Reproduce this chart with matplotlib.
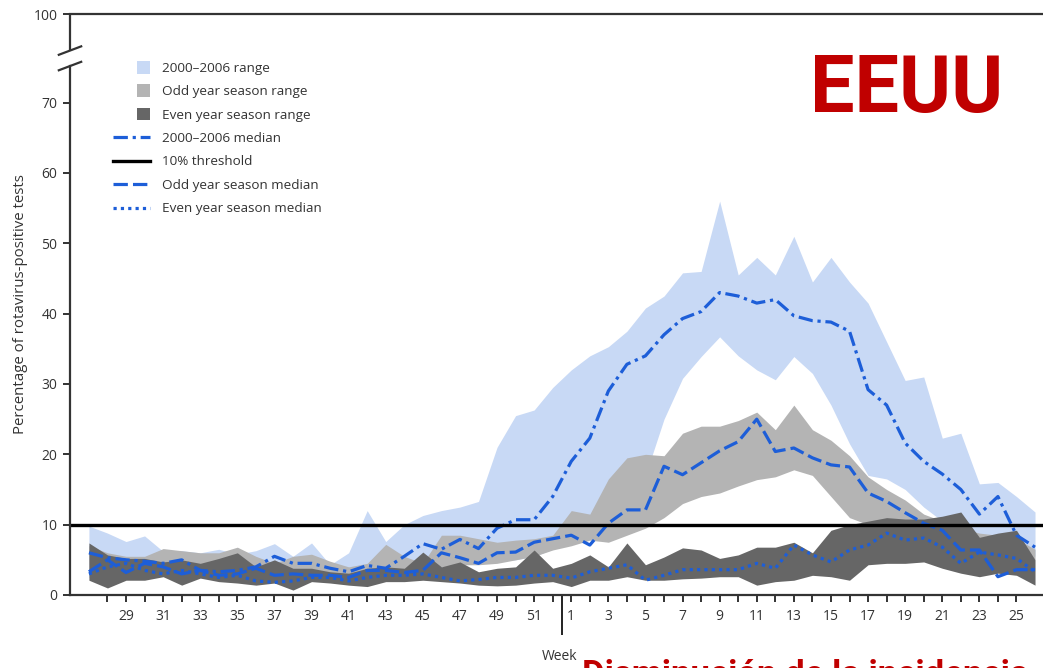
import numpy as np
import matplotlib.pyplot as plt
from matplotlib.patches import Rectangle, Patch
from matplotlib.lines import Line2D
from matplotlib.legend_handler import HandlerPatch

plt.rcParams['font.family'] = ['Open Sans', 'DejaVu Sans']

# surveillance weeks, July to June
weeks = list(range(27, 53)) + list(range(1, 27))

# 2000-2006 range (min / max) and median
base_hi = [9.8, 8.8, 7.6, 8.4, 6.2, 6.3, 6.0, 6.5, 5.8, 6.3, 7.3, 5.5, 7.4, 4.3, 6.0, 12.0, 7.6, 10.0, 11.3, 12.0,
           12.5, 13.3, 21.0, 25.5, 26.3, 29.5, 32.0, 34.0, 35.3, 37.5, 40.8, 42.5, 45.8, 46.0, 56.0, 45.5, 48.0, 45.5,
           51.0, 44.5, 48.0, 44.5, 41.5, 36.0, 30.5, 31.0, 22.3, 23.0, 15.8, 16.0, 14.0, 11.8]
base_lo = [2.5, 2.0, 2.5, 2.5, 2.8, 2.0, 2.6, 2.2, 2.0, 2.0, 2.0, 1.5, 2.2, 2.0, 2.0, 2.0, 2.2, 2.2, 2.5, 2.5,
           4.5, 4.5, 4.8, 5.0, 5.5, 6.5, 8.0, 8.0, 9.0, 11.0, 17.0, 25.0, 30.8, 33.9, 36.7, 34.0, 32.0, 30.6,
           33.9, 31.5, 27.0, 21.5, 17.0, 16.5, 15.0, 12.5, 10.5, 9.5, 8.0, 7.5, 7.0, 5.5]
base_med = [6.0, 5.3, 5.0, 4.8, 4.5, 5.0, 3.5, 3.3, 3.5, 4.0, 5.5, 4.5, 4.5, 3.8, 3.3, 4.2, 3.8, 5.5, 7.3, 6.5,
            7.9, 6.6, 9.5, 10.7, 10.7, 14.0, 19.0, 22.3, 29.0, 32.8, 34.0, 37.0, 39.3, 40.3, 43.0, 42.5, 41.5, 42.0,
            39.7, 39.0, 38.8, 37.5, 29.2, 27.0, 21.6, 19.0, 17.2, 15.0, 11.5, 14.0, 8.5, 6.8]

# odd year seasons
odd_hi = [7.0, 6.0, 5.5, 5.5, 6.6, 6.3, 6.0, 6.0, 6.8, 5.5, 4.5, 5.5, 5.8, 4.8, 4.0, 4.5, 7.2, 5.5, 4.5, 8.5,
          8.5, 8.0, 7.5, 7.8, 8.0, 8.5, 12.0, 11.5, 16.5, 19.5, 20.0, 19.8, 23.0, 24.0, 24.0, 24.8, 26.0, 23.5,
          27.0, 23.5, 22.0, 19.8, 16.8, 15.0, 13.5, 11.5, 10.5, 9.5, 8.8, 8.5, 8.0, 6.5]
odd_lo = [3.0, 2.5, 3.0, 3.0, 3.0, 3.0, 2.5, 3.0, 3.0, 3.0, 3.0, 3.0, 2.5, 2.5, 2.5, 3.0, 3.5, 3.5, 3.5, 4.0,
          4.3, 4.3, 4.5, 5.0, 5.5, 6.4, 7.0, 7.8, 7.5, 8.5, 9.5, 11.0, 13.0, 14.0, 14.5, 15.5, 16.4, 16.8,
          17.8, 17.0, 14.0, 11.0, 10.0, 9.5, 9.5, 9.5, 9.0, 8.5, 8.0, 7.5, 7.0, 5.0]
odd_med = [3.3, 5.0, 3.2, 4.5, 4.0, 3.0, 3.5, 2.8, 3.0, 3.8, 2.8, 3.0, 2.8, 2.8, 2.5, 3.5, 3.5, 3.2, 3.5, 6.0,
           5.3, 4.5, 6.0, 6.1, 7.5, 8.0, 8.5, 7.1, 10.2, 12.1, 12.1, 18.3, 17.1, 18.8, 20.5, 21.8, 25.0, 20.4,
           20.9, 19.5, 18.5, 18.2, 14.5, 13.3, 11.7, 10.2, 9.2, 6.4, 6.4, 2.6, 3.6, 3.6]

# even year seasons
even_hi = [7.4, 5.7, 5.2, 5.2, 4.7, 5.0, 4.5, 5.2, 6.0, 4.0, 5.0, 3.8, 3.8, 3.3, 3.1, 3.8, 4.0, 3.8, 6.1, 4.0,
           4.7, 3.3, 3.8, 4.0, 6.4, 3.8, 4.5, 5.7, 4.0, 7.4, 4.3, 5.4, 6.7, 6.4, 5.2, 5.7, 6.8, 6.8, 7.5, 6.0,
           9.2, 10.0, 10.5, 11.0, 10.8, 10.8, 11.2, 11.8, 8.2, 8.8, 9.2, 5.0]
even_lo = [2.1, 1.0, 2.1, 2.1, 2.6, 1.4, 2.4, 1.9, 1.7, 1.4, 1.7, 0.7, 1.9, 1.7, 1.4, 1.2, 1.9, 1.9, 2.1, 1.9,
           1.7, 1.4, 1.3, 1.4, 1.7, 1.9, 1.2, 2.1, 2.1, 2.6, 2.1, 2.1, 2.3, 2.4, 2.6, 2.6, 1.4, 1.9, 2.1, 2.8,
           2.6, 2.1, 4.3, 4.5, 4.5, 4.7, 3.8, 3.1, 2.6, 3.1, 2.8, 1.4]
even_med = [3.0, 4.0, 4.5, 3.5, 3.0, 3.5, 3.0, 2.5, 2.8, 2.0, 1.8, 2.0, 2.5, 2.5, 2.0, 2.5, 2.8, 2.8, 3.0, 2.5,
            2.0, 2.2, 2.5, 2.5, 2.8, 2.8, 2.4, 3.3, 3.8, 4.3, 2.1, 2.8, 3.6, 3.6, 3.6, 3.6, 4.5, 3.8, 7.1, 5.7,
            4.7, 6.4, 7.1, 8.8, 7.8, 8.1, 6.8, 4.5, 6.1, 5.7, 5.2, 3.3]

threshold = 10
yticks = [0, 10, 20, 30, 40, 50, 60, 70]

BLUE = '#1d5ed8'
LIGHT = '#c8d9f5'
MID = '#b4b4b4'
DARK = '#666666'
AX = '#333333'
LW = 2.3
dashdot = (4.5, 1.5, 1, 1.5)
dashed = (4.5, 1.6)
dotted = (1, 1.3)


class SquareHandler(HandlerPatch):
    # legend swatch drawn as a small square at the right of the handle box
    def create_artists(self, legend, orig_handle, xdescent, ydescent, width, height, fontsize, trans):
        s = 0.95 * fontsize
        r = Rectangle((width - xdescent - s, height / 2 - ydescent - s / 2), s, s,
                      facecolor=orig_handle.get_facecolor(), edgecolor='none', transform=trans)
        return [r]


fig = plt.figure(figsize=(10.43, 6.68), dpi=100)
ax = fig.add_axes([70 / 1043, 73 / 668, 973 / 1043, 581 / 668])
x = np.arange(len(weeks))

ax.fill_between(x, base_lo, base_hi, color=LIGHT, lw=0)
ax.fill_between(x, odd_lo, odd_hi, color=MID, lw=0)
ax.fill_between(x, even_lo, even_hi, color=DARK, lw=0)
ax.plot(x, base_med, color=BLUE, lw=LW, dashes=dashdot)
ax.plot(x, odd_med, color=BLUE, lw=LW, dashes=dashed)
ax.plot(x, even_med, color=BLUE, lw=LW, dashes=dotted)
ax.axhline(threshold, color='black', lw=2.4)

top = 82.6  # where the "100" sits above the axis break
ax.set_xlim(-1.02, 51.43)
ax.set_ylim(0, top)

ax.set_yticks(yticks + [top], labels=[str(v) for v in yticks] + ['100'])
ax.tick_params(axis='y', direction='out', length=5, width=1.4, color=AX, labelsize=10, labelcolor=AX, pad=4)

# a tick for every week, labels on odd weeks; long tick marks the new year
ax.set_xticks(x[1:51], labels=[str(w) if w % 2 else '' for w in weeks[1:51]], minor=True)
ax.set_xticks([25.5], labels=[''])
ax.tick_params(axis='x', which='minor', direction='out', length=5, width=1.4, color=AX,
               labelsize=10, labelcolor=AX, pad=5)
ax.tick_params(axis='x', which='major', direction='out', length=29, width=1.4, color='#222')

for s in ['top', 'bottom', 'left']:
    ax.spines[s].set_linewidth(1.6)
    ax.spines[s].set_color(AX)
ax.spines['right'].set_visible(False)
ax.spines['left'].set_bounds(0, 75.2)
yt = ax.get_yaxis_transform()
ax.plot([0, 0], [77.4, top], transform=yt, color=AX, lw=1.6, clip_on=False, solid_capstyle='butt')
for yc in (77.4, 75.2):
    ax.plot([-0.0115, 0.0115], [yc - 0.6, yc + 0.6], transform=yt, color=AX, lw=1.6, clip_on=False)

ax.set_ylabel('Percentage of rotavirus-positive tests', fontsize=10.8, color=AX)
ax.yaxis.set_label_coords(-42 / 973, 0.5)
fig.text(560 / 1043, 11 / 668, 'Week', ha='center', va='center', fontsize=10, color=AX)

handles = [Patch(facecolor=LIGHT), Patch(facecolor=MID), Patch(facecolor=DARK),
           Line2D([], [], color=BLUE, lw=LW, dashes=dashdot),
           Line2D([], [], color='black', lw=2.4),
           Line2D([], [], color=BLUE, lw=LW, dashes=dashed),
           Line2D([], [], color=BLUE, lw=LW, dashes=dotted)]
labels = ['2000\u20132006 range', 'Odd year season range', 'Even year season range',
          '2000\u20132006 median', '10% threshold', 'Odd year season median', 'Even year season median']
leg = ax.legend(handles, labels, loc='upper left', bbox_to_anchor=(113 / 1043, 606 / 668),
                bbox_transform=fig.transFigure, frameon=False, fontsize=9.7, handlelength=2.75,
                handletextpad=0.9, labelspacing=0.77, borderpad=0, borderaxespad=0,
                handler_map={Patch: SquareHandler()})
for t in leg.get_texts():
    t.set_color(AX)

fig.text(810 / 1043, 556 / 668, 'EEUU', fontsize=57, fontweight='bold', color='#c00000',
         family='Roboto', ha='left', va='baseline')
# caption below the chart, cut by the bottom edge as in the source image
fig.text(582 / 1043, -17 / 668, 'Disminución de la incidencia', fontsize=25, fontweight='bold',
         color='#c00000', family='Roboto', ha='left', va='baseline')

fig.savefig('out.png', dpi=100)
